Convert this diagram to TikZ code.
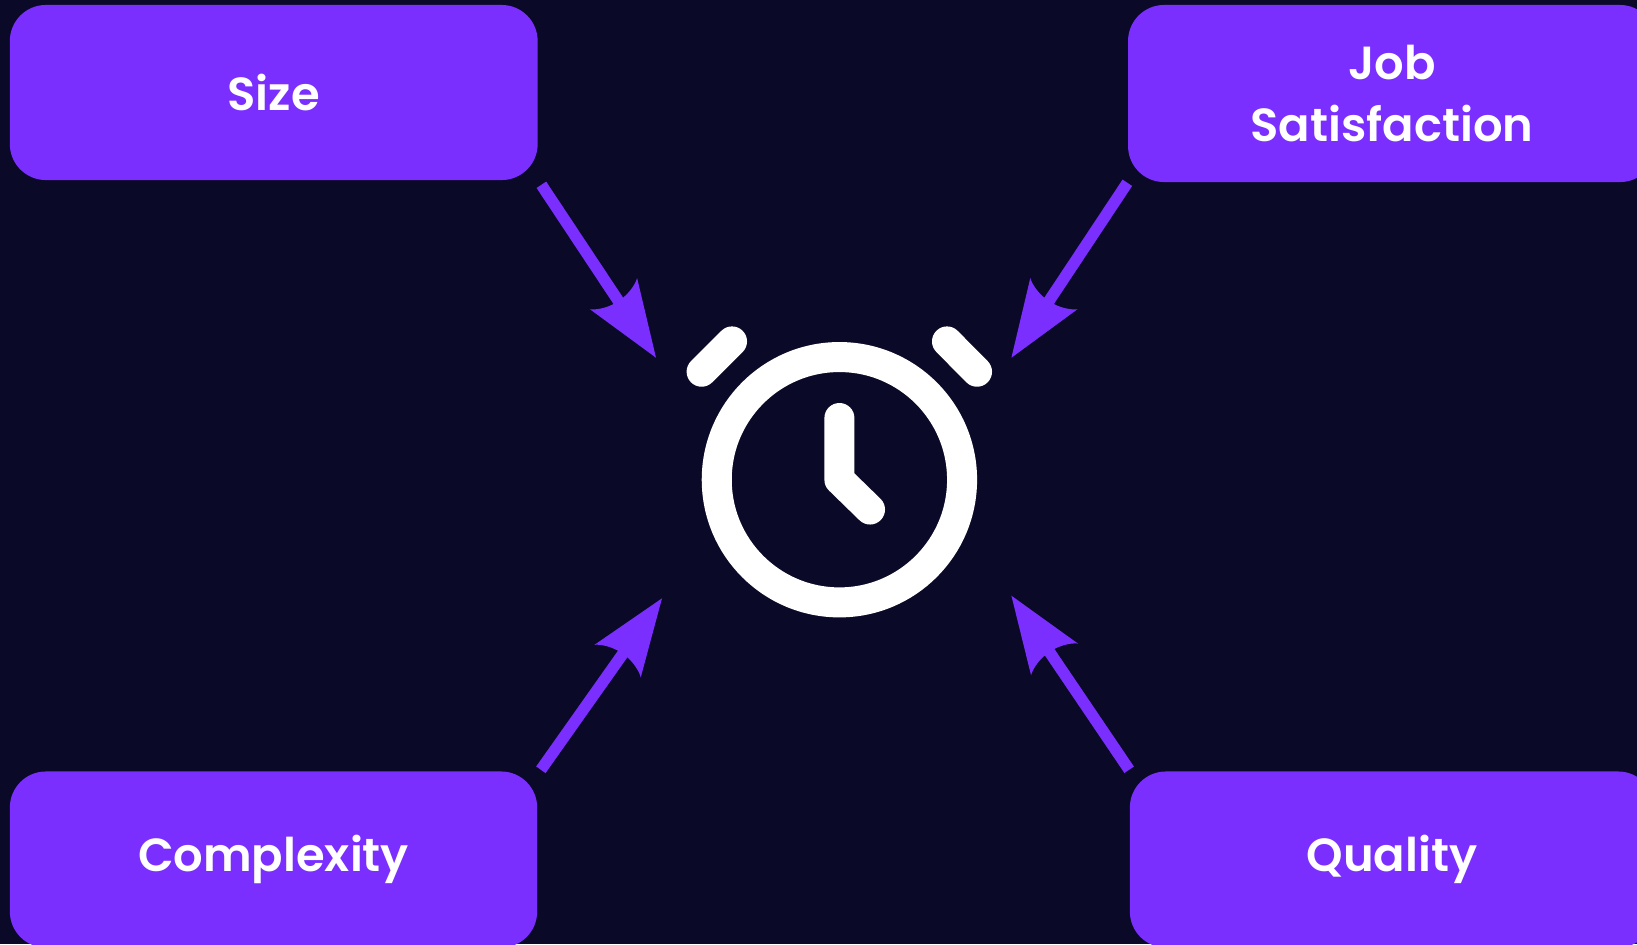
\documentclass[tikz,border=0pt]{standalone}
\usepackage{fontspec}
\setmainfont{Poppins}[UprightFont=* SemiBold, BoldFont=* SemiBold]
\definecolor{nightbg}{RGB}{10,10,40}
\definecolor{boxpurple}{RGB}{123,47,255}
\pgfdeclarearrow{
  name=Dart,
  setup code={\pgfarrowssettipend{0pt}\pgfarrowssetlineend{-18.5pt}\pgfarrowssetbackend{-21.88pt}\pgfarrowshullpoint{0pt}{0pt}},
  drawing code={
    \pgfpathmoveto{\pgfqpoint{0pt}{0pt}}
    \pgfpathlineto{\pgfqpoint{-21.88pt}{8.05pt}}
    \pgfpathcurveto{\pgfqpoint{-20.9pt}{7pt}}{\pgfqpoint{-19.7pt}{4.4pt}}{\pgfqpoint{-19.4pt}{1.7pt}}
    \pgfpathlineto{\pgfqpoint{-19.4pt}{-1.7pt}}
    \pgfpathcurveto{\pgfqpoint{-19.7pt}{-4.4pt}}{\pgfqpoint{-20.9pt}{-7pt}}{\pgfqpoint{-21.88pt}{-8.05pt}}
    \pgfpathclose
    \pgfusepathqfill
  }
}
\tikzset{
  factor/.style={rectangle, fill=boxpurple, rounded corners=0.36cm, inner sep=0pt, align=center,
    text=white, font=\fontsize{13.2}{17.5}\selectfont},
  conn/.style={draw=boxpurple, line width=0.115cm, -{Dart}},
  clockpart/.style={draw=white, line width=0.3cm, line cap=round}
}
\begin{document}
\begin{tikzpicture}[x=0.01cm, y=-0.01cm]
    \useasboundingbox (0,0) rectangle (1637,944);
    \fill[nightbg] (0,0) rectangle (1637,944);
    \clip (0,0) rectangle (1637,944);
    % four boxes, two of them run off the page
    \node[factor, minimum width=5.275cm, minimum height=1.75cm] (size) at (273.75,92.5) {Size};
    \node[factor, minimum width=5.276cm, minimum height=1.77cm] (job) at (1392,93.5) {Job\\Satisfaction};
    \node[factor, minimum width=5.27cm, minimum height=1.76cm] (complexity) at (273.5,859.5) {Complexity};
    \node[factor, minimum width=5.24cm, minimum height=1.76cm] (quality) at (1392,859.5) {Quality};
    % clock
    \node[circle, clockpart, minimum size=2.452cm, inner sep=0pt] (clock) at (839.4,479.7) {};
    \draw[clockpart, line join=round] (839.4,418) -- (clock.center) -- (870,509.5);
    \draw[clockpart] (701.6,371.7) -- (732,341.4);
    \draw[clockpart] (947,341.4) -- (977,371.7);
    % arrow tips
    \coordinate (sizetip) at (656,357.7);
    \coordinate (jobtip) at (1011.4,357.7);
    \coordinate (complexitytip) at (662,598.3);
    \coordinate (qualitytip) at (1011.4,595.7);
    \draw[conn] ([shift={(3,4)}]size.south east) -- (sizetip);
    \draw[conn] (job.south west) -- (jobtip);
    \draw[conn] ([shift={(3,-1)}]complexity.north east) -- (complexitytip);
    \draw[conn] ([shift={(0,-1)}]quality.north west) -- (qualitytip);
\end{tikzpicture}
\end{document}
